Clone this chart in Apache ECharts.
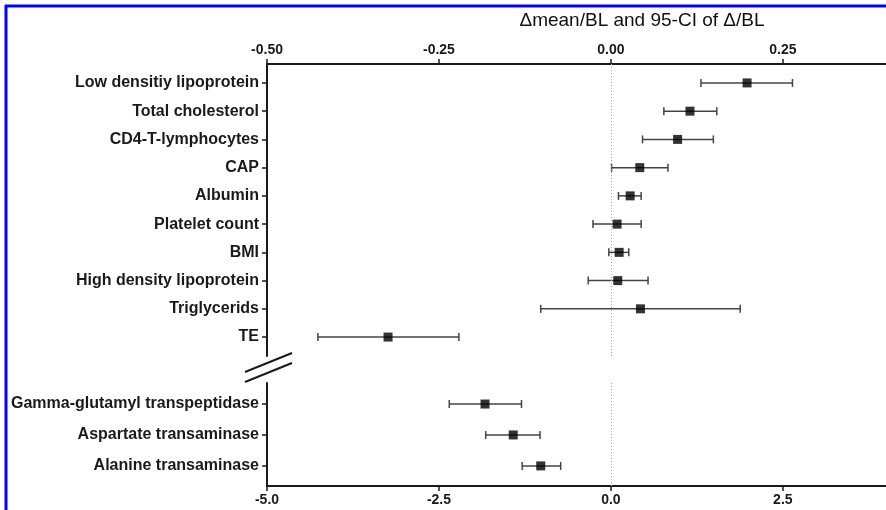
<!DOCTYPE html>
<html>
<head>
<meta charset="utf-8">
<script src="https://cdn.jsdelivr.net/npm/echarts@6/dist/echarts.min.js"></script>
<style>
  html, body { margin: 0; padding: 0; background: #fff; }
  #main { width: 886px; height: 510px; }
</style>
</head>
<body>
<div id="main"></div>
<script>
// upper panel (top axis, -0.5 .. 0.4)
var upperNames = ["Low densitiy lipoprotein", "Total cholesterol", "CD4-T-lymphocytes", "CAP", "Albumin",
  "Platelet count", "BMI", "High density lipoprotein", "Triglycerids", "TE"];
var upperMean = [0.198, 0.115, 0.097, 0.042, 0.028, 0.009, 0.012, 0.010, 0.043, -0.324];
var upperLow = [0.131, 0.077, 0.046, 0.001, 0.011, -0.026, -0.003, -0.033, -0.102, -0.426];
var upperHigh = [0.264, 0.154, 0.149, 0.083, 0.044, 0.044, 0.026, 0.054, 0.188, -0.221];
var upperTicks = [-0.5, -0.25, 0, 0.25];

// lower panel (bottom axis, -5 .. 4)
var lowerNames = ["Gamma-glutamyl transpeptidase", "Aspartate transaminase", "Alanine transaminase"];
var lowerMean = [-1.83, -1.42, -1.02];
var lowerLow = [-2.35, -1.82, -1.29];
var lowerHigh = [-1.30, -1.03, -0.73];
var lowerTicks = [-5, -2.5, 0, 2.5];

var font = "'Liberation Sans', Arial, sans-serif";
var ink = "#1a1a1a";

function idx(arr) { return arr.map(function (d, i) { return i; }); }

function errorBar(params, api) {
  var lo = api.coord([api.value(1), api.value(0)]);
  var hi = api.coord([api.value(2), api.value(0)]);
  var h = 4;
  var st = { stroke: "#444", lineWidth: 1.5 };
  return {
    type: "group",
    children: [
      { type: "line", shape: { x1: lo[0], y1: lo[1], x2: hi[0], y2: hi[1] }, style: st },
      { type: "line", shape: { x1: lo[0], y1: lo[1] - h, x2: lo[0], y2: lo[1] + h }, style: st },
      { type: "line", shape: { x1: hi[0], y1: hi[1] - h, x2: hi[0], y2: hi[1] + h }, style: st }
    ]
  };
}

function yAxisFor(gridIndex, names, min, max) {
  return {
    type: "value", gridIndex: gridIndex, inverse: true, min: min, max: max,
    splitLine: { show: false },
    axisLine: { show: true, onZero: false, lineStyle: { color: ink, width: 2 } },
    axisTick: { show: true, length: 5, customValues: idx(names), lineStyle: { color: ink, width: 1.5 } },
    axisLabel: {
      customValues: idx(names), margin: 8,
      color: ink, fontFamily: font, fontWeight: "bold", fontSize: 16,
      formatter: function (v) { return names[Math.round(v)]; }
    }
  };
}

function xAxisFor(gridIndex, pos, min, max, ticks, dec) {
  return {
    type: "value", gridIndex: gridIndex, position: pos, min: min, max: max,
    splitLine: { show: false },
    axisLine: { show: true, onZero: false, lineStyle: { color: ink, width: 2 } },
    axisTick: { show: true, length: 5, customValues: ticks, lineStyle: { color: ink, width: 1.5 } },
    axisLabel: {
      customValues: ticks, margin: 7,
      color: ink, fontFamily: font, fontWeight: "bold", fontSize: 14,
      formatter: function (v) { return v.toFixed(dec); }
    }
  };
}

var zeroLine = {
  silent: true, symbol: "none", label: { show: false },
  lineStyle: { color: "#a8a8a8", type: [1, 2], width: 1 },
  data: [{ xAxis: 0 }]
};

var chart = echarts.init(document.getElementById("main"), null, { renderer: "canvas" });

chart.setOption({
  animation: false,
  backgroundColor: "#fff",
  title: {
    text: "\u0394mean/BL and 95-CI of \u0394/BL",
    left: 637, top: 6, textAlign: "center",
    textStyle: { fontFamily: font, fontSize: 19, fontWeight: "normal", color: "#111" }
  },
  grid: [
    { left: 267, top: 64, width: 625, height: 292 },
    { left: 267, top: 383, width: 625, height: 103 }
  ],
  xAxis: [
    xAxisFor(0, "top", -0.5, 0.4, upperTicks, 2),
    xAxisFor(1, "bottom", -5, 4, lowerTicks, 1)
  ],
  yAxis: [
    yAxisFor(0, upperNames, -0.67, 9.67),
    yAxisFor(1, lowerNames, -0.68, 2.65)
  ],
  series: [
    {
      type: "custom", xAxisIndex: 0, yAxisIndex: 0, renderItem: errorBar,
      encode: { x: [1, 2], y: 0 },
      data: idx(upperNames).map(function (i) { return [i, upperLow[i], upperHigh[i]]; }),
      markLine: zeroLine, z: 2
    },
    {
      type: "scatter", xAxisIndex: 0, yAxisIndex: 0, symbol: "rect", symbolSize: 9,
      itemStyle: { color: "#000" }, z: 3,
      data: idx(upperNames).map(function (i) { return [upperMean[i], i]; })
    },
    {
      type: "custom", xAxisIndex: 1, yAxisIndex: 1, renderItem: errorBar,
      encode: { x: [1, 2], y: 0 },
      data: idx(lowerNames).map(function (i) { return [i, lowerLow[i], lowerHigh[i]]; }),
      markLine: zeroLine, z: 2
    },
    {
      type: "scatter", xAxisIndex: 1, yAxisIndex: 1, symbol: "rect", symbolSize: 9,
      itemStyle: { color: "#000" }, z: 3,
      data: idx(lowerNames).map(function (i) { return [lowerMean[i], i]; })
    }
  ],
  graphic: [
    // axis break marks
    { type: "line", shape: { x1: 245, y1: 372, x2: 292, y2: 353 }, style: { stroke: ink, lineWidth: 2 } },
    { type: "line", shape: { x1: 245, y1: 382, x2: 292, y2: 363 }, style: { stroke: ink, lineWidth: 2 } },
    // blue frame
    { type: "line", shape: { x1: 5, y1: 6, x2: 886, y2: 6 }, style: { stroke: "#0000ff", lineWidth: 3 } },
    { type: "line", shape: { x1: 6, y1: 5, x2: 6, y2: 510 }, style: { stroke: "#0000ff", lineWidth: 3 } }
  ]
});
</script>
</body>
</html>
